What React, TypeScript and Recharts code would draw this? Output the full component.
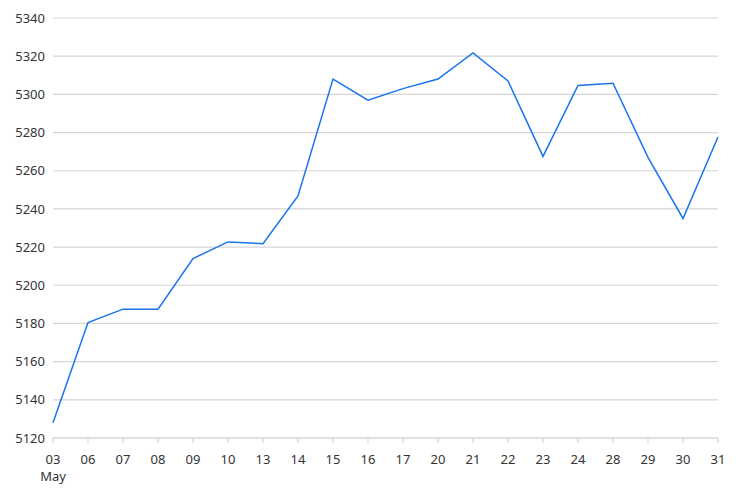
import React from 'react';
import { LineChart, Line, XAxis, YAxis, CartesianGrid } from 'recharts';

const categories = ['03', '06', '07', '08', '09', '10', '13', '14', '15', '16', '17', '20', '21', '22', '23', '24', '28', '29', '30', '31'];
const values = [5128, 5180.5, 5187.5, 5187.5, 5214, 5222.7, 5221.8, 5246.8, 5308, 5297, 5303, 5308, 5321.7, 5307, 5267.5, 5304.7, 5305.8, 5267, 5235, 5277.7];
const yTicks = [5120, 5140, 5160, 5180, 5200, 5220, 5240, 5260, 5280, 5300, 5320, 5340];
const monthLabel = 'May';

const data = categories.map((c, i) => ({ day: c, value: values[i] }));

const FONT = '"Noto Sans", sans-serif';

const XTick = (props: any) => {
  const { x, y, payload, index } = props;
  return (
    <g>
      <text x={x} y={y + 19} textAnchor="middle" fontFamily={FONT} fontSize={13} fill="#333">
        {payload.value}
      </text>
      {index === 0 && (
        <text x={x} y={y + 36} textAnchor="middle" fontFamily={FONT} fontSize={13} fill="#333">
          {monthLabel}
        </text>
      )}
    </g>
  );
};

export default function App() {
  return (
    <LineChart width={735} height={480} data={data} margin={{ top: 10, right: 25, left: 0, bottom: 10 }}>
      <CartesianGrid horizontal vertical={false} stroke="#d6d6d6" strokeWidth={1.2} />
      <XAxis
        dataKey="day"
        interval={0}
        axisLine={{ stroke: '#d6d6d6', strokeWidth: 1.2 }}
        tickLine={{ stroke: '#d6d6d6', strokeWidth: 1.2 }}
        tickSize={5}
        tick={<XTick />}
        height={40}
      />
      <YAxis
        domain={[5120, 5340]}
        ticks={yTicks}
        interval={0}
        axisLine={false}
        tickLine={false}
        width={45}
        tick={{ fontFamily: FONT, fontSize: 13, fill: '#333' }}
      />
      <Line
        type="linear"
        dataKey="value"
        stroke="#1a73f0"
        strokeWidth={1.5}
        dot={false}
        isAnimationActive={false}
      />
    </LineChart>
  );
}
